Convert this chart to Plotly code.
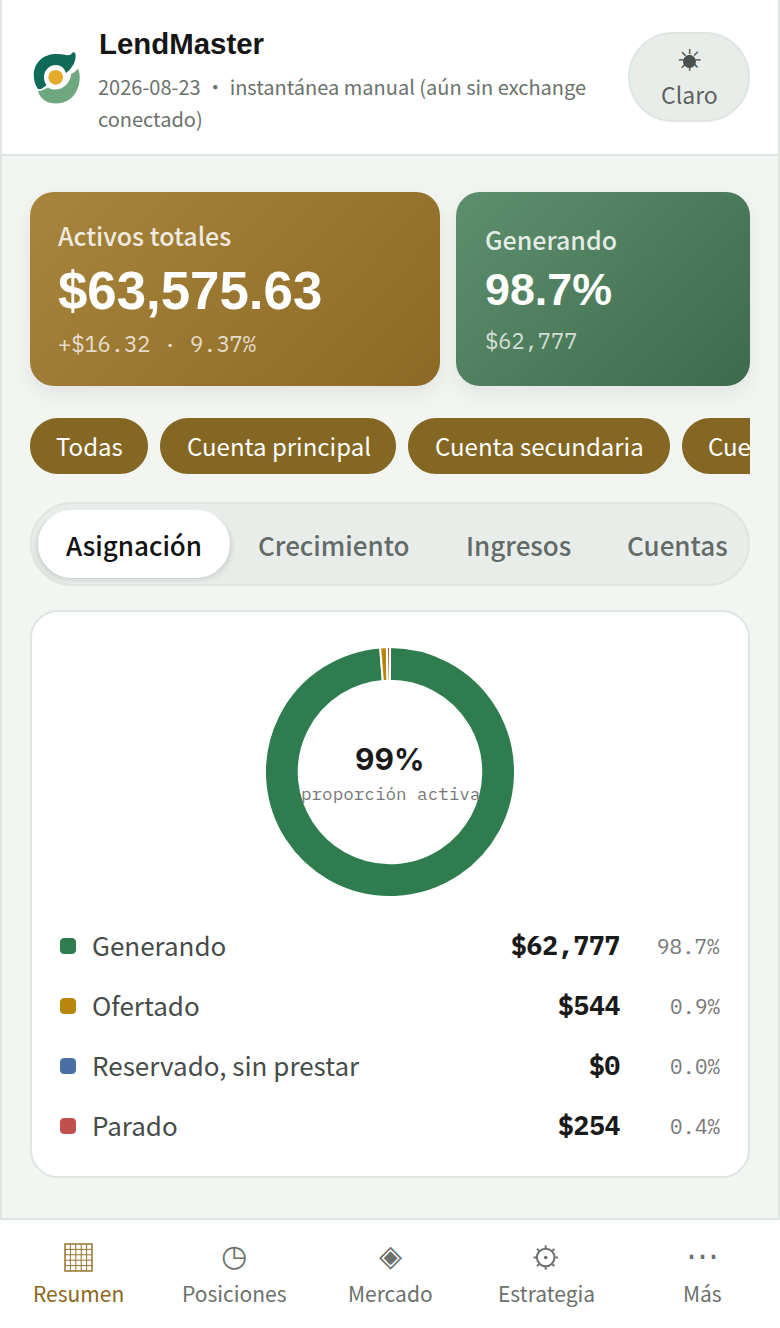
import base64
import math
import plotly.graph_objects as go

W, H = 780, 1328
SANS = "Noto Sans CJK SC"
HEAD = "Liberation Sans"
MONO = "IBM Plex Mono"
ICON = "DejaVu Sans"

# chart data
labels = ["Generando", "Ofertado", "Reservado, sin prestar", "Parado"]
values = [62777, 544, 0, 254]
value_labels = ["$62,777", "$544", "$0", "$254"]
pct_labels = ["98.7%", "0.9%", "0.0%", "0.4%"]
colors = ["#2f7d4f", "#b8860b", "#4a6fa5", "#c0504d"]

chips = ["Todas", "Cuenta principal", "Cuenta secundaria", "Cue"]
tabs = ["Asignación", "Crecimiento", "Ingresos", "Cuentas"]
nav_labels = ["Resumen", "Posiciones", "Mercado", "Estrategia", "Más"]
nav_icons = ["", "◷", "◈", "", "⋯"]
nav_icon_sizes = [37, 30, 30, 30, 33]


def px(x):
    return x / W


def py(y):
    return 1 - y / H


def round_rect(x0, y0, x1, y1, r):
    k = r * 0.448
    pts = [
        ("M", (x0 + r, y0)),
        ("L", (x1 - r, y0)),
        ("C", (x1 - k, y0), (x1, y0 + k), (x1, y0 + r)),
        ("L", (x1, y1 - r)),
        ("C", (x1, y1 - k), (x1 - k, y1), (x1 - r, y1)),
        ("L", (x0 + r, y1)),
        ("C", (x0 + k, y1), (x0, y1 - k), (x0, y1 - r)),
        ("L", (x0, y0 + r)),
        ("C", (x0, y0 + k), (x0 + k, y0), (x0 + r, y0)),
    ]
    out = ""
    for p in pts:
        out += p[0] + " ".join(f"{px(a):.5f},{py(b):.5f}" for a, b in p[1:])
    return out + "Z"


shapes = []


def rect(x0, y0, x1, y1, r=0, fill="#fff", line=None, lw=0, layer="below"):
    shapes.append(dict(
        type="path", xref="paper", yref="paper", layer=layer,
        path=round_rect(x0, y0, x1, y1, r), fillcolor=fill,
        line=dict(color=line or "rgba(0,0,0,0)", width=lw),
    ))


def circle(cx, cy, r, fill="rgba(0,0,0,0)", line=None, lw=0):
    shapes.append(dict(
        type="circle", xref="paper", yref="paper", layer="below",
        x0=px(cx - r), x1=px(cx + r), y0=py(cy + r), y1=py(cy - r), fillcolor=fill,
        line=dict(color=line or "rgba(0,0,0,0)", width=lw),
    ))


def seg(x0, y0, x1, y1, color, lw):
    shapes.append(dict(
        type="line", xref="paper", yref="paper", layer="below",
        x0=px(x0), x1=px(x1), y0=py(y0), y1=py(y1),
        line=dict(color=color, width=lw),
    ))


def ticks(cx, cy, r0, r1, color, lw):
    for i in range(8):
        a = i * math.pi / 4
        seg(cx + r0 * math.cos(a), cy + r0 * math.sin(a),
            cx + r1 * math.cos(a), cy + r1 * math.sin(a), color, lw)


texts = []


def label(x, y, s, size, color, font=SANS, anchor="left", weight=None):
    f = dict(family=font, size=size, color=color)
    if weight:
        f["weight"] = weight
    texts.append(dict(
        xref="paper", yref="paper", x=px(x), y=py(y), text=s, showarrow=False,
        xanchor=anchor, yanchor="middle", font=f, borderpad=0, borderwidth=0,
    ))


def svg_uri(svg):
    return "data:image/svg+xml;base64," + base64.b64encode(svg.encode()).decode()


def card_image(x0, y0, x1, y1, r, c0, c1):
    # gradient card with soft shadow, plotly shapes have no diagonal gradient
    pad = 36
    w, h = x1 - x0, y1 - y0
    cx, cy, d = pad + w / 2, pad + h / 2, (w + h) / 4
    svg = f"""<svg xmlns="http://www.w3.org/2000/svg" width="{w + 2 * pad}" height="{h + 2 * pad}">
<defs><linearGradient id="g" gradientUnits="userSpaceOnUse" x1="{cx - d}" y1="{cy - d}" x2="{cx + d}" y2="{cy + d}"><stop offset="0" stop-color="{c0}"/><stop offset="1" stop-color="{c1}"/></linearGradient>
<filter id="b" x="-20%" y="-20%" width="140%" height="140%"><feGaussianBlur stdDeviation="10"/></filter></defs>
<rect x="{pad}" y="{pad + 8}" width="{w}" height="{h}" rx="{r}" fill="#000" fill-opacity="0.07" filter="url(#b)"/>
<rect x="{pad}" y="{pad}" width="{w}" height="{h}" rx="{r}" fill="url(#g)"/></svg>"""
    return dict(
        source=svg_uri(svg), xref="paper", yref="paper", x=px(x0 - pad), y=py(y0 - pad),
        sizex=(w + 2 * pad) / W, sizey=(h + 2 * pad) / H, xanchor="left", yanchor="top",
        sizing="stretch", layer="above",
    )


logo_svg = """<svg xmlns="http://www.w3.org/2000/svg" width="180" height="180" viewBox="0 0 60 60">
<path d="M12 42 C6 33 6 20 14 13 C20 7 30 6 40 8 C43 8.5 45 8 46 6 C47 5 49 5 49.5 7 C50.5 13 47 21 40 26 C38 20 34 18 30 18 C23 18 17.5 24 18 31 C18.2 34 19 36 20.5 38 C17 41 15 43 12 42Z" fill="#0f6b57"/>
<path d="M12 44 C16 44 19 42 22 40.5 C27 44 35 43 40 38 C43 35 45 31 45 27 C47 26 50 24.5 52 21.5 C54.5 27 54.5 36 51 43 C47 52 39 56.5 30 56.5 C21 56.5 14 52 12 44Z" fill="#6fa77e"/>
<circle cx="29.7" cy="30.3" r="7.4" fill="#e3aa2b"/></svg>"""

images = [
    card_image(30, 192, 440, 386, 24, "#a8853c", "#8c6a25"),
    card_image(456, 192, 750, 386, 24, "#5e8f6d", "#3d6b4d"),
    dict(source=svg_uri(logo_svg), xref="paper", yref="paper", x=px(26), y=py(47),
         sizex=60 / W, sizey=60 / H, xanchor="left", yanchor="top", sizing="stretch", layer="above"),
]

# page frame
rect(0, 0, W, 1220, fill="#dfe5e1")
rect(2, 156, W - 2, 1218, fill="#f2f5f2")
rect(2, 0, W - 2, 154, fill="#ffffff")
rect(0, 1220, W, H, fill="#ffffff")

# header
label(99, 44, "LendMaster", 29.4, "#161616", font=HEAD, weight=700)
label(98, 86, "2026-08-23 • instantánea manual (aún sin exchange", 20, "#6b716d")
label(98, 118, "conectado)", 20, "#6b716d")
rect(629, 33, 749, 121, r=44, fill="#e9edea", line="#dfe5e1", lw=2)
circle(689.5, 61.5, 6.5, fill="#4a504d")
label(689.5, 60, "☀", 30, "#4a504d", font=ICON, anchor="center")
label(689, 94, "Claro", 23, "#5c625f", anchor="center")

# stat cards
label(58, 235, "Activos totales", 25, "rgba(255,255,255,0.85)", weight=500)
label(58, 291, "$63,575.63", 52.8, "#ffffff", font=HEAD, weight=700)
label(58, 343, "+$16.32 · 9.37%", 22, "rgba(255,255,255,0.75)", font=MONO)
label(485, 239, "Generando", 25, "rgba(255,255,255,0.85)", weight=500)
label(485, 289, "98.7%", 44.8, "#ffffff", font=HEAD, weight=700)
label(485, 340, "$62,777", 22, "rgba(255,255,255,0.75)", font=MONO)

# account chips
chip_edges = [(30, 148), (160, 396), (408, 670)]
for (x0, x1), s in zip(chip_edges, chips):
    rect(x0, 418, x1, 474, r=28, fill="#836723")
    label((x0 + x1) / 2 + 0.5, 445, s, 24, "#ffffff", anchor="center")
# last chip runs off the scroller
k = 28
x0, x1, y0, y1 = 682, 750, 418, 474
shapes.append(dict(
    type="path", xref="paper", yref="paper", layer="below", fillcolor="#836723",
    line=dict(color="rgba(0,0,0,0)", width=0),
    path=(f"M{px(x0 + k)},{py(y0)}L{px(x1)},{py(y0)}L{px(x1)},{py(y1)}L{px(x0 + k)},{py(y1)}"
          f"C{px(x0 + k * .448)},{py(y1)} {px(x0)},{py(y1 - k * .448)} {px(x0)},{py(y1 - k)}"
          f"L{px(x0)},{py(y0 + k)}C{px(x0)},{py(y0 + k * .448)} {px(x0 + k * .448)},{py(y0)} {px(x0 + k)},{py(y0)}Z"),
))
label(708, 445, chips[3], 24, "#ffffff")

# tabs
rect(31, 503, 749, 585, r=41, fill="#e9edea", line="#dfe5e1", lw=2)
for off, a in ((5, 0.02), (3, 0.03), (1, 0.05)):
    rect(38 - off, 510 + 2, 230 + off, 578 + off, r=34, fill=f"rgba(0,0,0,{a})")
rect(38, 510, 230, 578, r=34, fill="#ffffff")
tab_centers = [134, 333.5, 518.5, 677]
for i, (s, cx) in enumerate(zip(tabs, tab_centers)):
    label(cx, 544, s, 26, "#111111" if i == 0 else "#626b68", anchor="center", weight=500)

# allocation card
rect(31, 611, 749, 1177, r=27, fill="#ffffff", line="#dfe5e1", lw=2)
label(389.5, 759, "99%", 30, "#1a1a1a", font="Inter", anchor="center", weight=700)
label(390, 793, "proporción activa", 17.6, "#777777", font=MONO, anchor="center")

row_y = [946, 1006, 1066, 1126]
for name, val, pct, col, y in zip(labels, value_labels, pct_labels, colors, row_y):
    rect(60, y - 8, 76, y + 8, r=4, fill=col)
    label(92, y - 2, name, 26, "#464c49")
    label(620, y - 1, val, 26, "#1a1a1a", font=MONO, anchor="right", weight=700)
    label(720, y, pct, 20.8, "#777777", font=MONO, anchor="right")

# bottom nav
nav_x = [78, 234, 390, 546, 702]
for i, (cx, ic, sz, s) in enumerate(zip(nav_x, nav_icons, nav_icon_sizes, nav_labels)):
    c = "#8b6820" if i == 0 else "#6b716d"
    if ic:
        label(cx, 1255, ic, sz, c, font=ICON, anchor="center")
    label(cx, 1293, s, 21, c, anchor="center")
# resumen icon, thin grid
grid = "#96752f"
rect(65, 1244, 92, 1271, line=grid, lw=1.5, fill="rgba(0,0,0,0)")
for n in range(1, 5):
    seg(65 + n * 27 / 5, 1244, 65 + n * 27 / 5, 1271, grid, 1)
    seg(65, 1244 + n * 27 / 5, 92, 1244 + n * 27 / 5, grid, 1)
# estrategia icon, the glyph in the installed fonts looks different
circle(545.7, 1257.5, 8.8, line="#6b716d", lw=2)
circle(545.7, 1257.5, 1.8, fill="#6b716d")
ticks(545.7, 1257.5, 9.5, 12.2, "#6b716d", 2)

donut = go.Pie(
    labels=labels, values=values, sort=False, direction="clockwise", rotation=0,
    hole=0.73, textinfo="none", hoverinfo="label+percent", showlegend=False,
    marker=dict(colors=colors, line=dict(color="#ffffff", width=2)),
    domain=dict(x=[px(265), px(515)], y=[py(897), py(647)]),
)

fig = go.Figure(donut)
fig.update_layout(
    width=W, height=H, autosize=False, margin=dict(l=0, r=0, t=0, b=0, pad=0),
    paper_bgcolor="#ffffff", plot_bgcolor="#ffffff",
    shapes=shapes, annotations=texts, images=images,
)
fig.write_html("out.html", config=dict(displayModeBar=False),
               post_script="document.body.style.margin='0';document.body.style.overflow='hidden';")
